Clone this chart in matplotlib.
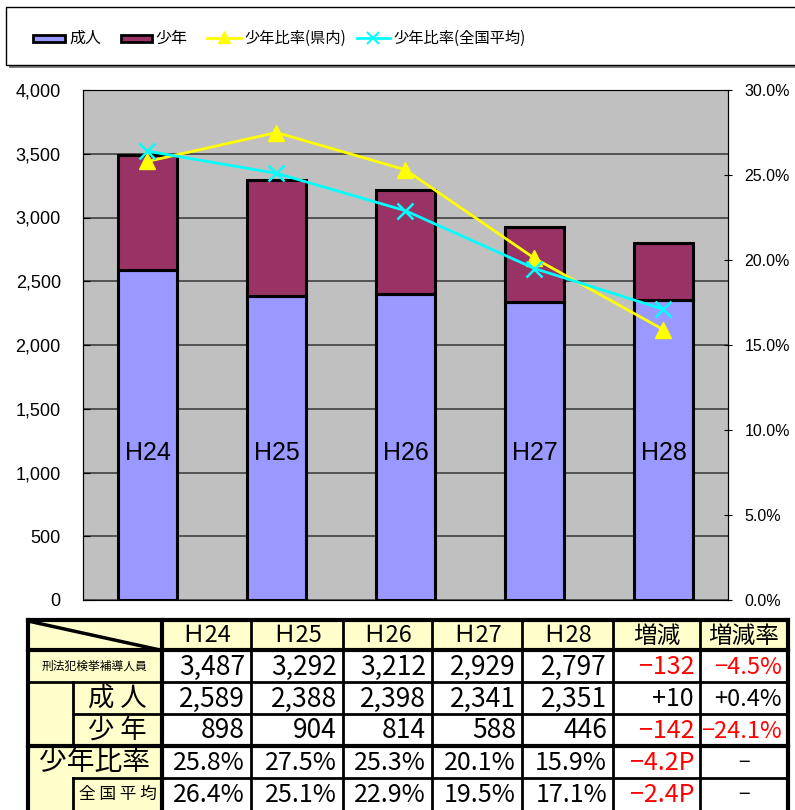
import matplotlib
matplotlib.use('Agg')
import matplotlib.pyplot as plt
from matplotlib.patches import Rectangle
from matplotlib.lines import Line2D
import numpy as np

plt.rcParams['font.family'] = ['Liberation Sans', 'Noto Sans CJK JP', 'DejaVu Sans']
JP = ['Noto Sans CJK JP', 'DejaVu Sans']

# データ
years = ['H24', 'H25', 'H26', 'H27', 'H28']
head_years = ['Ｈ24', 'Ｈ25', 'Ｈ26', 'Ｈ27', 'Ｈ28']
adult = [2589, 2388, 2398, 2341, 2351]
juvenile = [898, 904, 814, 588, 446]
ratio_pref = [25.8, 27.5, 25.3, 20.1, 15.9]
ratio_nat = [26.4, 25.1, 22.9, 19.5, 17.1]

total = [a + j for a, j in zip(adult, juvenile)]

W, H = 795, 810
fig = plt.figure(figsize=(W / 100, H / 100), dpi=100)

# グラフ本体
ax = fig.add_axes([83 / W, 1 - 600 / H, 645 / W, 510 / H])
ax.set_facecolor('#C0C0C0')
x = np.arange(len(years))
ax.bar(x, adult, width=0.45, color='#9999FF', edgecolor='black', linewidth=2.2, zorder=3)
ax.bar(x, juvenile, bottom=adult, width=0.45, color='#993366', edgecolor='black', linewidth=2.2, zorder=3)
for i, y in enumerate(years):
    ax.text(x[i], 1150, y, ha='center', va='center', fontsize=18, zorder=4)
ax.set_xlim(-0.5, len(years) - 0.5)
ax.set_ylim(0, 4000)
ax.set_yticks(np.arange(0, 4001, 500))
ax.set_yticklabels([f'{v:,}' for v in range(0, 4001, 500)], fontsize=13)
ax.set_xticks([])
ax.yaxis.grid(True, color='#404040', linewidth=1.2, zorder=0)
ax.tick_params(axis='y', direction='in', length=5, pad=16)
for s in ['top', 'bottom']:
    ax.spines[s].set_color('#808080')
ax.spines['left'].set_color('black')
ax.spines['right'].set_color('black')

ax2 = ax.twinx()
ax2.plot(x, ratio_pref, color='#FFFF00', linewidth=2, marker='^', markersize=11, zorder=5)
ax2.plot(x, ratio_nat, color='#00FFFF', linewidth=2, marker='x', markersize=11, markeredgewidth=1.8, zorder=5)
ax2.set_ylim(0, 30)
ax2.set_yticks(np.arange(0, 30.1, 5))
ax2.set_yticklabels([f'{v:.1f}%' for v in np.arange(0, 30.1, 5)], fontsize=11.5)
ax2.tick_params(axis='y', direction='inout', length=6, pad=9)
ax2.spines['right'].set_color('black')

# 凡例と表（ピクセル座標）
ov = fig.add_axes([0, 0, 1, 1], zorder=10)
ov.set_xlim(0, W)
ov.set_ylim(H, 0)
ov.axis('off')
ov.patch.set_alpha(0)

ov.add_patch(Rectangle((9, 10), 795, 58, facecolor='#808080', edgecolor='none'))
ov.add_patch(Rectangle((6, 7), 795, 58, facecolor='white', edgecolor='black', linewidth=1))
ov.add_patch(Rectangle((33, 35), 32, 7, facecolor='#9999FF', edgecolor='black', linewidth=2))
ov.text(69, 38, '成人', fontsize=11.5, va='center', family=JP)
ov.add_patch(Rectangle((121, 35), 31, 7, facecolor='#993366', edgecolor='black', linewidth=2))
ov.text(155, 38, '少年', fontsize=11.5, va='center', family=JP)
ov.add_line(Line2D([207, 241], [38, 38], color='#FFFF00', linewidth=2))
ov.plot([224], [37], marker='^', color='#FFFF00', markersize=9)
ov.text(244, 38, '少年比率(県内)', fontsize=11, va='center', family=JP)
ov.add_line(Line2D([357, 390], [38, 38], color='#00FFFF', linewidth=2))
ov.plot([373], [38], marker='x', color='#00FFFF', markersize=9, markeredgewidth=1.5)
ov.text(393, 38, '少年比率(全国平均)', fontsize=11, va='center', family=JP)

# 表
cols = [28, 162, 251, 343, 432, 522, 613, 700, 788]
rows = [620, 650, 682, 714, 746, 778, 812]
sub = 73
yellow = '#FFFFCC'
ov.add_patch(Rectangle((cols[0], rows[0]), cols[-1] - cols[0], rows[1] - rows[0], facecolor=yellow, edgecolor='none'))
ov.add_patch(Rectangle((cols[0], rows[1]), cols[1] - cols[0], rows[-1] - rows[1], facecolor=yellow, edgecolor='none'))

def hline(y, x0, x1, lw):
    ov.add_line(Line2D([x0, x1], [y, y], color='black', linewidth=lw, solid_capstyle='projecting'))

def vline(xx, y0, y1, lw):
    ov.add_line(Line2D([xx, xx], [y0, y1], color='black', linewidth=lw, solid_capstyle='projecting'))

hline(rows[0], cols[0], cols[-1], 3)
hline(rows[1], cols[0], cols[-1], 3)
hline(rows[2], cols[0], cols[-1], 2)
hline(rows[3], sub, cols[-1], 2)
hline(rows[4], cols[0], cols[-1], 3)
hline(rows[5], sub, cols[-1], 2)
vline(cols[0], rows[0], rows[-1], 3)
vline(cols[1], rows[0], rows[-1], 3)
for c in cols[2:-1]:
    vline(c, rows[0], rows[-1], 2)
vline(cols[-1], rows[0], rows[-1], 3)
vline(sub, rows[2], rows[4], 2)
vline(sub, rows[5], rows[-1], 2)
ov.add_line(Line2D([cols[0], cols[1] - 2], [rows[0] + 1, rows[1]], color='black', linewidth=2.5))

for i, t in enumerate(head_years + ['増減', '増減率']):
    ov.text((cols[i + 1] + cols[i + 2]) / 2, (rows[0] + rows[1]) / 2 + 1, t, fontsize=17,
            ha='center', va='center', family=JP)

ov.text((cols[0] + cols[1]) / 2, (rows[1] + rows[2]) / 2, '刑法犯検挙補導人員', fontsize=8.5,
        ha='center', va='center', family=JP)
ov.text((sub + cols[1]) / 2, (rows[2] + rows[3]) / 2, '成 人', fontsize=19, ha='center', va='center', family=JP)
ov.text((sub + cols[1]) / 2, (rows[3] + rows[4]) / 2, '少 年', fontsize=19, ha='center', va='center', family=JP)
ov.text((cols[0] + cols[1]) / 2, (rows[4] + rows[5]) / 2, '少年比率', fontsize=20, ha='center', va='center', family=JP)
ov.text((sub + cols[1]) / 2, (rows[5] + 810) / 2, '全 国 平 均', fontsize=12, ha='center', va='center', family=JP)

def fmt_diff(v, unit=''):
    s = f'{abs(v):,}' if isinstance(v, int) else f'{abs(v):.1f}'
    return ('−' if v < 0 else '+') + s + unit

def cell(r, c, text, color='black', ha='right', size=18):
    yc = (rows[r] + min(rows[r + 1], 810)) / 2 + 1
    if ha == 'right':
        xx = cols[c + 1] - 6
    else:
        xx = (cols[c] + cols[c + 1]) / 2
    ov.text(xx, yc, text, fontsize=size, ha=ha, va='center', color=color, family=JP)

series = [total, adult, juvenile]
for r, vals in enumerate(series, start=1):
    for i, v in enumerate(vals):
        cell(r, i + 1, f'{v:,}', size=19)
    d = vals[-1] - vals[-2]
    rate = round(d / vals[-2] * 100, 1)
    col = 'red' if d < 0 else 'black'
    cell(r, 6, fmt_diff(d), col)
    cell(r, 7, fmt_diff(rate, '%'), col, size=17)

for r, vals in enumerate([ratio_pref, ratio_nat], start=4):
    for i, v in enumerate(vals):
        cell(r, i + 1, f'{v:.1f}%')
    d = round(vals[-1] - vals[-2], 1)
    cell(r, 6, fmt_diff(d, 'P'), 'red' if d < 0 else 'black')
    cell(r, 7, '−', ha='center', size=15)

fig.savefig('out.png', dpi=100)
